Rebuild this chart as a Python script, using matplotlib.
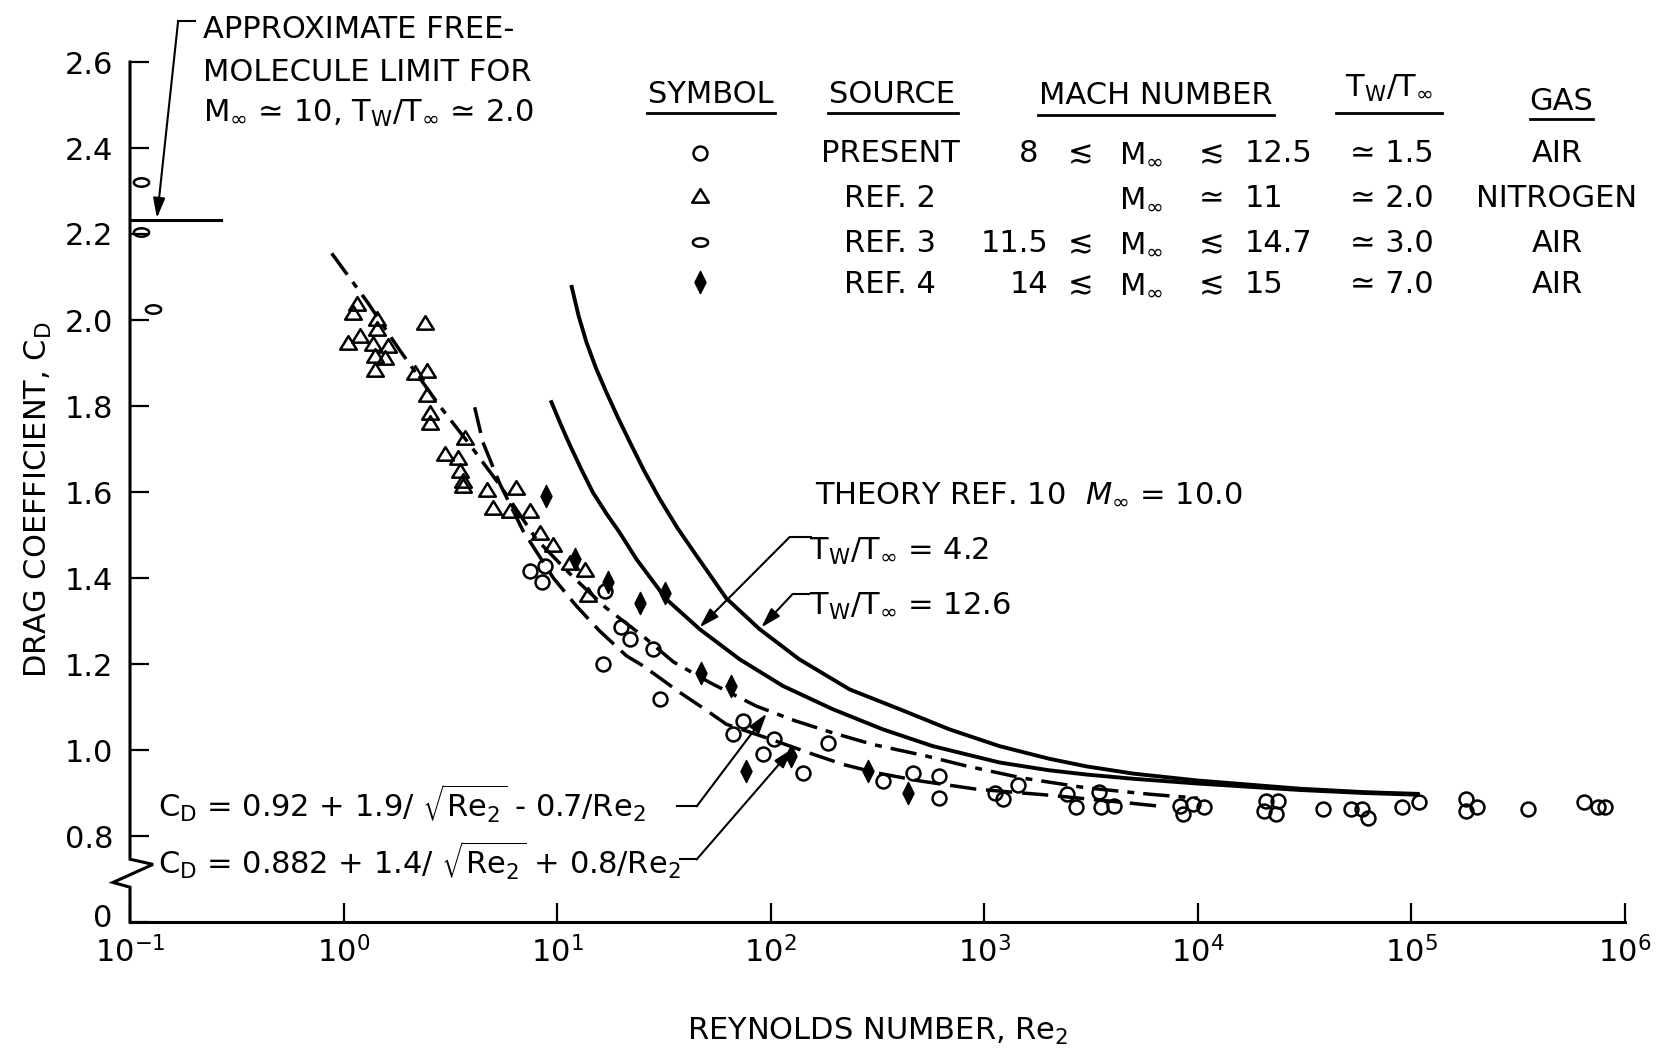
import numpy as np
import matplotlib
matplotlib.use('Agg')
import matplotlib.pyplot as plt
from matplotlib.path import Path
from matplotlib.lines import Line2D
from matplotlib.ticker import FixedLocator, NullLocator

plt.rcParams['font.family'] = ['DejaVu Sans']
plt.rcParams['font.size'] = 22
plt.rcParams['mathtext.default'] = 'regular'
plt.rcParams['lines.scale_dashes'] = False

# ---- data ----
# present tests (open circles)
present_re = [7.45, 8.75, 8.45, 16.7, 20.0, 21.9, 28.1, 16.4, 30.2, 74.1, 66.5, 104, 91.9,
              142, 185, 335, 463, 617, 617, 1117, 1230, 1445, 2449, 2698, 3457, 3535,
              4064, 8275, 9525, 10720, 8510, 20940, 23830, 20370, 23280, 38640, 52240,
              58850, 62800, 90580, 108700, 180300, 203100, 180300, 352600, 640000,
              748000, 807000]
present_cd = [1.417, 1.428, 1.390, 1.370, 1.285, 1.258, 1.234, 1.200, 1.118, 1.068, 1.037,
              1.025, 0.990, 0.947, 1.017, 0.928, 0.947, 0.939, 0.889, 0.901, 0.885, 0.918,
              0.897, 0.867, 0.902, 0.867, 0.869, 0.869, 0.874, 0.867, 0.851, 0.881, 0.881,
              0.857, 0.851, 0.862, 0.862, 0.862, 0.843, 0.867, 0.878, 0.885, 0.867, 0.857,
              0.862, 0.878, 0.867, 0.867]

# ref. 2 (triangles)
ref2_re = [1.15, 1.11, 1.43, 2.40, 1.19, 1.05, 1.43, 1.38, 1.62, 1.40, 1.56, 1.40, 2.16,
           2.45, 2.45, 2.53, 2.53, 3.69, 2.98, 3.44, 3.50, 3.63, 3.63, 4.67, 6.45, 5.01,
           6.00, 7.44, 8.30, 9.58, 11.5, 13.5, 14.0]
ref2_cd = [2.034, 2.014, 1.999, 1.991, 1.960, 1.945, 1.976, 1.941, 1.937, 1.914, 1.910,
           1.882, 1.875, 1.879, 1.824, 1.782, 1.758, 1.723, 1.685, 1.677, 1.646, 1.623,
           1.612, 1.603, 1.607, 1.560, 1.553, 1.553, 1.502, 1.475, 1.433, 1.417, 1.359]

# ref. 3 (flat ovals)
ref3_re = [0.113, 0.113, 0.128]
ref3_cd = [2.322, 2.205, 2.026]

# ref. 4 (filled diamonds)
ref4_re = [8.91, 12.08, 17.3, 24.4, 31.9, 47.3, 65.2, 76.9, 124.8, 285, 438]
ref4_cd = [1.591, 1.444, 1.390, 1.343, 1.366, 1.180, 1.149, 0.951, 0.986, 0.951, 0.901]

# theory ref. 10, Tw/Tinf = 4.2 and 12.6
th42_re = [9.4, 10.4, 11.5, 13.0, 14.7, 17.0, 19.6, 23.5, 32.4, 46.5, 71.5, 114, 195,
           335, 574, 1178, 2000, 3000, 5000, 10000, 30000, 60000, 107000]
th42_cd = [1.809, 1.757, 1.708, 1.652, 1.599, 1.550, 1.506, 1.444, 1.351, 1.281, 1.211,
           1.149, 1.095, 1.048, 1.009, 0.971, 0.953, 0.943, 0.933, 0.922, 0.907, 0.900,
           0.896]
th126_re = [11.7, 12.6, 13.7, 15.2, 17.0, 19.3, 21.9, 25.5, 30.2, 36.5, 44.9, 61.9, 88.7,
            136, 234, 401, 687, 1178, 2000, 3000, 5000, 10000, 30000, 60000, 107000]
th126_cd = [2.077, 2.010, 1.949, 1.888, 1.832, 1.772, 1.716, 1.650, 1.584, 1.517, 1.452,
            1.353, 1.281, 1.211, 1.141, 1.095, 1.048, 1.009, 0.980, 0.962, 0.945, 0.929,
            0.910, 0.902, 0.898]

# faired curves
fit1_re = [0.88, 1.3, 1.83, 2.82, 3.9, 5.5, 8.0, 12, 17, 25.2, 35, 51.8, 85.7, 130, 195,
           300, 535, 822, 1500, 3000, 6000, 10000]
fit1_cd = [2.155, 2.04, 1.93, 1.80, 1.71, 1.61, 1.49, 1.40, 1.33, 1.265, 1.205, 1.157,
           1.102, 1.068, 1.040, 1.013, 0.986, 0.963, 0.935, 0.912, 0.897, 0.888]
fit2_re = [4.11, 4.49, 5.38, 6.92, 9.6, 12.3, 15.8, 21.1, 25.2, 37.5, 50.8, 61.9, 100,
           158, 220, 312, 500, 916, 2000, 4500, 7000]
fit2_cd = [1.797, 1.716, 1.62, 1.51, 1.40, 1.335, 1.277, 1.219, 1.196, 1.134, 1.090,
           1.060, 1.025, 0.990, 0.966, 0.947, 0.928, 0.909, 0.895, 0.878, 0.868]

free_molecule_cd = 2.233
free_molecule_re = [0.1, 0.267]

y_ticks = [0.6, 0.8, 1.0, 1.2, 1.4, 1.6, 1.8, 2.0, 2.2, 2.4, 2.6]
# the bottom tick (broken axis) is labelled "0" separately below
y_tick_labels = ['', '0.8', '1.0', '1.2', '1.4', '1.6', '1.8', '2.0', '2.2', '2.4', '2.6']
x_ticks = [1e-1, 1e0, 1e1, 1e2, 1e3, 1e4, 1e5, 1e6]

headers = ['SYMBOL', 'SOURCE', 'MACH NUMBER', r'$T_W/T_\infty$', 'GAS']
sources = ['PRESENT', 'REF. 2', 'REF. 3', 'REF. 4']
mach_low = ['8', '', '11.5', '14']
mach_rel1 = ['≲', '', '≲', '≲']
mach_rel2 = ['≲', '≃', '≲', '≲']
mach_high = ['12.5', '11', '14.7', '15']
temp_ratio = ['≃ 1.5', '≃ 2.0', '≃ 3.0', '≃ 7.0']
gases = ['AIR', 'NITROGEN', 'AIR', 'AIR']

# ---- markers ----
tri_marker = Path([(-1, -0.62), (1, -0.62), (0, 1.0), (-1, -0.62)],
                  [Path.MOVETO, Path.LINETO, Path.LINETO, Path.CLOSEPOLY])
t = np.linspace(0, 2 * np.pi, 40)
oval_marker = Path(np.column_stack([np.cos(t), 0.55 * np.sin(t)]))
dia_marker = Path([(0, 1), (0.5, 0), (0, -1), (-0.5, 0), (0, 1)],
                  [Path.MOVETO, Path.LINETO, Path.LINETO, Path.LINETO, Path.CLOSEPOLY])

sty = {
    'present': dict(marker='o', ms=10, mew=1.8, mfc='none', mec='k'),
    'ref2': dict(marker=tri_marker, ms=12, mew=1.8, mfc='none', mec='k'),
    'ref3': dict(marker=oval_marker, ms=11, mew=1.8, mfc='none', mec='k'),
    'ref4': dict(marker=dia_marker, ms=16, mew=1, mfc='k', mec='k'),
}

W, H = 1669, 1056
fig = plt.figure(figsize=(W / 100, H / 100), dpi=100)
ax = fig.add_axes([130 / W, 1 - 922 / H, 1495 / W, (922 - 62) / H])


def ftext(px, py, s, **kw):
    return fig.text(px / W, 1 - py / H, s, **kw)


def fline(x0, x1, py, lw=2.0):
    fig.add_artist(Line2D([x0 / W, x1 / W], [1 - py / H, 1 - py / H], color='k', lw=lw))


# curves
ax.plot(th42_re, th42_cd, color='k', lw=2.8, zorder=2)
ax.plot(th126_re, th126_cd, color='k', lw=2.8, zorder=2)
ax.plot(fit1_re, fit1_cd, color='k', lw=2.5, dashes=[19, 6.5, 5, 6.5], zorder=2)
ax.plot(fit2_re, fit2_cd, color='k', lw=2.5, dashes=[19, 7], zorder=2)
ax.plot(free_molecule_re, [free_molecule_cd] * 2, color='k', lw=2.2, zorder=2)

# data points
ax.plot(present_re, present_cd, ls='none', zorder=3, **sty['present'])
ax.plot(ref2_re, ref2_cd, ls='none', zorder=3, **sty['ref2'])
ax.plot(ref3_re, ref3_cd, ls='none', zorder=3, clip_on=False, **sty['ref3'])
ax.plot(ref4_re, ref4_cd, ls='none', zorder=3, **sty['ref4'])

# axes
ax.set_xscale('log')
ax.set_xlim(0.1, 1e6)
ax.set_ylim(0.6, 2.6)
ax.xaxis.set_major_locator(FixedLocator(x_ticks))
ax.xaxis.set_minor_locator(NullLocator())
ax.yaxis.set_major_locator(FixedLocator(y_ticks))
ax.set_yticklabels(y_tick_labels)
ax.tick_params(direction='in', length=14, width=1.6, labelsize=22)
ax.tick_params(axis='y', pad=12)
ax.tick_params(axis='x', pad=10)
for s in ['top', 'right', 'left']:
    ax.spines[s].set_visible(False)
ax.spines['bottom'].set_linewidth(2.2)
ftext(112, 933, '0', ha='right', va='bottom')

# left axis with break
ax.plot([0, 0, 0.0154, -0.0114, 0, 0], [2.6, 0.746, 0.734, 0.692, 0.681, 0.6],
        transform=ax.get_yaxis_transform(), color='k', lw=2.2, clip_on=False,
        solid_joinstyle='miter', zorder=4)

arrow = dict(arrowstyle='-|>,head_length=0.6,head_width=0.18', color='k', lw=1.5,
             shrinkA=0, shrinkB=0, mutation_scale=20)

# free molecule leader
ax.plot([0.168, 0.2014], [2.695, 2.695], color='k', lw=1.5, clip_on=False)
ax.annotate('', xy=(0.1337, free_molecule_cd + 0.004), xytext=(0.168, 2.695),
            arrowprops=arrow, annotation_clip=False)
ftext(203, 38, 'APPROXIMATE FREE-', va='baseline')
ftext(203, 81, 'MOLECULE LIMIT FOR', va='baseline')
ftext(203, 122, r'$M_\infty$ ≃ 10, $T_W/T_\infty$ ≃ 2.0', va='baseline')

# theory labels
ftext(815, 502, r'THEORY REF. 10  $\mathit{M}_\infty$ = 10.0', va='baseline')
ftext(809, 560, r'$T_W/T_\infty$ = 4.2', va='baseline')
ftext(809, 615, r'$T_W/T_\infty$ = 12.6', va='baseline')
ax.plot([122.5, 153.8], [1.495, 1.495], color='k', lw=1.5)
ax.annotate('', xy=(46.4, 1.285), xytext=(122.5, 1.495), arrowprops=arrow)
ax.plot([126.5, 150.4], [1.3625, 1.3625], color='k', lw=1.5)
ax.annotate('', xy=(90.3, 1.285), xytext=(126.5, 1.3625), arrowprops=arrow)

# faired curve labels
ftext(158, 818, r'$C_D$ = 0.92 + 1.9/ $\sqrt{Re_2}$ - 0.7/$Re_2$', va='baseline')
ftext(158, 875, r'$C_D$ = 0.882 + 1.4/ $\sqrt{Re_2}$ + 0.8/$Re_2$', va='baseline')
ax.plot([36.6, 45.0], [0.869, 0.869], color='k', lw=1.5)
ax.annotate('', xy=(95.8, 1.085), xytext=(45.0, 0.869), arrowprops=arrow)
ax.plot([37.8, 45.0], [0.7455, 0.7455], color='k', lw=1.5, clip_on=False)
ax.annotate('', xy=(126.5, 1.003), xytext=(45.0, 0.7455), arrowprops=arrow,
            annotation_clip=False)

# axis titles
ftext(47, 500, r'DRAG COEFFICIENT, $C_D$', rotation=90, rotation_mode='anchor',
      ha='center', va='baseline')
ftext(878, 1040, r'REYNOLDS NUMBER, $Re_2$', ha='center', va='baseline')

# legend table
header_x = [711, 892, 1156, 1389, 1561]
header_base = [103, 103, 104, 97, 110]
under = [(647, 775, 113), (828, 958, 113), (1038, 1274, 115), (1336, 1442, 113),
         (1530, 1593, 119)]
for hx, hb, h in zip(header_x, header_base, headers):
    ftext(hx, hb, h, ha='center', va='baseline')
for x0, x1, uy in under:
    fline(x0, x1, uy)

row_base = [162, 207, 252, 293]
row_mid = [153, 197, 242, 282]
keys = ['present', 'ref2', 'ref3', 'ref4']
for i in range(4):
    ax.plot([700 / W], [1 - row_mid[i] / H], transform=fig.transFigure, clip_on=False,
            ls='none', **sty[keys[i]])
    b = row_base[i]
    ftext(890, b, sources[i], ha='center', va='baseline')
    if mach_low[i]:
        ftext(1048 if i != 0 else 1038, b, mach_low[i], ha='right', va='baseline')
    if mach_rel1[i]:
        ftext(1081, b, mach_rel1[i], ha='center', va='baseline')
    ftext(1141, b, r'$M_\infty$', ha='center', va='baseline')
    ftext(1212, b, mach_rel2[i], ha='center', va='baseline')
    ftext(1245, b, mach_high[i], ha='left', va='baseline')
    ftext(1392, b, temp_ratio[i], ha='center', va='baseline')
    ftext(1557, b, gases[i], ha='center', va='baseline')

fig.savefig('out.png', dpi=100)
